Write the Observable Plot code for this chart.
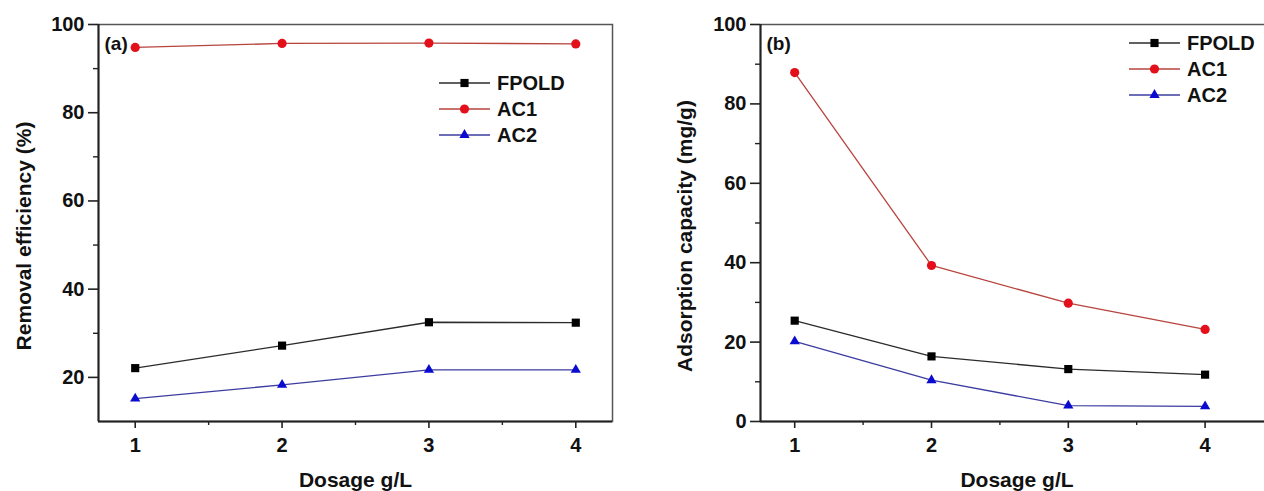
<!DOCTYPE html>
<html>
<head>
<meta charset="utf-8">
<script src="https://cdn.jsdelivr.net/npm/d3@7"></script>
<script src="https://cdn.jsdelivr.net/npm/@observablehq/plot@0.6"></script>
<style>
  html, body { margin: 0; padding: 0; background: #fff; }
  #wrap { position: relative; width: 1264px; height: 491px; overflow: hidden; background: #fff;
          font-family: "Liberation Sans", Arial, sans-serif; font-weight: bold; color: #111; }
  .panel { position: absolute; top: 0; }
  .legend { position: absolute; }
  .lrow { display: flex; align-items: center; height: 26px; font-size: 20px; line-height: 26px; }
  .lrow svg { display: block; }
  .lrow span { margin-left: 7px; }
</style>
</head>
<body>
<div id="wrap"></div>
<script>
// ---- data ----
const dosage = [1, 2, 3, 4];
const seriesNames = ["FPOLD", "AC1", "AC2"];

const removalFPOLD = [22.1, 27.2, 32.5, 32.4];
const removalAC1   = [94.8, 95.7, 95.8, 95.6];
const removalAC2   = [15.2, 18.3, 21.7, 21.7];

const capacityFPOLD = [25.4, 16.4, 13.2, 11.8];
const capacityAC1   = [87.9, 39.3, 29.8, 23.2];
const capacityAC2   = [20.2, 10.4, 4.0, 3.8];

const xTicks = [1, 2, 3, 4];
const xMinorTicks = [1.5, 2.5, 3.5];
const yTicksA = [20, 40, 60, 80, 100];
const yMinorA = [30, 50, 70, 90];
const yTicksB = [0, 20, 40, 60, 80, 100];
const yMinorB = [10, 30, 50, 70, 90];

// ---- styles ----
const markerColors = ["#000000", "#e3101b", "#0a0ad0"];
const lineColors = ["#2b2b2b", "#b8443e", "#3c3ca0"];
const symbols = ["square", "circle", "triangle"];
const radii = [4.6, 4.6, 3.8];
const font = '"Liberation Sans", Arial, sans-serif';
const intFmt = d3.format("d");

function tidy(valuesList) {
  return seriesNames.flatMap((s, si) =>
    dosage.map((d, i) => ({series: s, si, dosage: d, value: valuesList[si][i]})));
}

function panel({values, xDomain, yDomain, yTicks, yMinor, yLabel, tag, width, marginLeft, marginRight, titleDx}) {
  const rows = tidy(values);
  const marks = [
    Plot.frame({stroke: "#555", strokeWidth: 1.5}),
    Plot.ruleX([xDomain[0]], {stroke: "#222", strokeWidth: 2}),
    Plot.ruleY([yDomain[0]], {stroke: "#222", strokeWidth: 2}),
    Plot.axisY(yTicks, {tickSize: 10, tickPadding: 4, tickFormat: intFmt, label: null, stroke: "#222", strokeWidth: 1.6, fontSize: 20}),
    Plot.axisY(yMinor, {tickSize: 5, tickFormat: () => "", label: null, stroke: "#222", strokeWidth: 1.4}),
    Plot.axisX(xTicks, {tickSize: 7, tickPadding: 9, tickFormat: intFmt, label: null, stroke: "#222", strokeWidth: 1.6, fontSize: 20}),
    Plot.axisX(xMinorTicks, {tickSize: 4, tickFormat: () => "", label: null, stroke: "#222", strokeWidth: 1.4}),
  ];
  seriesNames.forEach((s, si) => {
    const d = rows.filter(r => r.si === si);
    marks.push(Plot.line(d, {x: "dosage", y: "value", stroke: lineColors[si], strokeWidth: 1.3}));
  });
  seriesNames.forEach((s, si) => {
    const d = rows.filter(r => r.si === si);
    marks.push(Plot.dot(d, {x: "dosage", y: "value", symbol: symbols[si], fill: markerColors[si], stroke: "none", r: radii[si]}));
  });
  marks.push(
    Plot.text([yLabel], {frameAnchor: "left", textAnchor: "middle", lineAnchor: "middle", rotate: -90, dx: titleDx, dy: 13, fontSize: 21, fontWeight: "bold", fill: "#111"}),
    Plot.text(["Dosage g/L"], {frameAnchor: "bottom", textAnchor: "middle", lineAnchor: "middle", dy: 59, fontSize: 21, fontWeight: "bold", fill: "#111"}),
    Plot.text([tag], {frameAnchor: "top-left", dx: 6, dy: 19, textAnchor: "start", lineAnchor: "middle", fontSize: 19, fontWeight: "bold", fill: "#111"})
  );
  return Plot.plot({
    width, height: 491,
    marginLeft, marginRight, marginTop: 24, marginBottom: 70,
    x: {domain: xDomain},
    y: {domain: yDomain},
    style: {fontFamily: font, fontWeight: "bold", fontSize: "20px", color: "#111", background: "transparent", overflow: "visible"},
    marks
  });
}

const wrap = document.getElementById("wrap");

const pa = panel({
  values: [removalFPOLD, removalAC1, removalAC2],
  xDomain: [0.75, 4.25], yDomain: [10, 100],
  yTicks: yTicksA, yMinor: yMinorA,
  yLabel: "Removal efficiency (%)", tag: "(a)",
  width: 640, marginLeft: 98, marginRight: 28, titleDx: -74
});
pa.classList.add("panel"); pa.style.left = "0px";
wrap.appendChild(pa);

const pb = panel({
  values: [capacityFPOLD, capacityAC1, capacityAC2],
  xDomain: [0.75, 4.5], yDomain: [0, 100],
  yTicks: yTicksB, yMinor: yMinorB,
  yLabel: "Adsorption capacity (mg/g)", tag: "(b)",
  width: 640, marginLeft: 120, marginRight: 7, titleDx: -75
});
pb.classList.add("panel"); pb.style.left = "640px";
wrap.appendChild(pb);

// ---- legends ----
function legend(left, top) {
  const div = document.createElement("div");
  div.className = "legend";
  div.style.left = left + "px";
  div.style.top = top + "px";
  seriesNames.forEach((s, si) => {
    const row = document.createElement("div");
    row.className = "lrow";
    const svg = d3.create("svg").attr("width", 51).attr("height", 26);
    svg.append("line").attr("x1", 0).attr("x2", 51).attr("y1", 13).attr("y2", 13)
      .attr("stroke", lineColors[si]).attr("stroke-width", 1.3);
    const symType = [d3.symbolSquare, d3.symbolCircle, d3.symbolTriangle][si];
    svg.append("path").attr("transform", "translate(25.5,13)")
      .attr("d", d3.symbol(symType, Math.PI * radii[si] * radii[si])())
      .attr("fill", markerColors[si]);
    row.appendChild(svg.node());
    const t = document.createElement("span");
    t.textContent = s;
    row.appendChild(t);
    div.appendChild(row);
  });
  wrap.appendChild(div);
}
legend(439, 70);
legend(1129, 30);
</script>
</body>
</html>
